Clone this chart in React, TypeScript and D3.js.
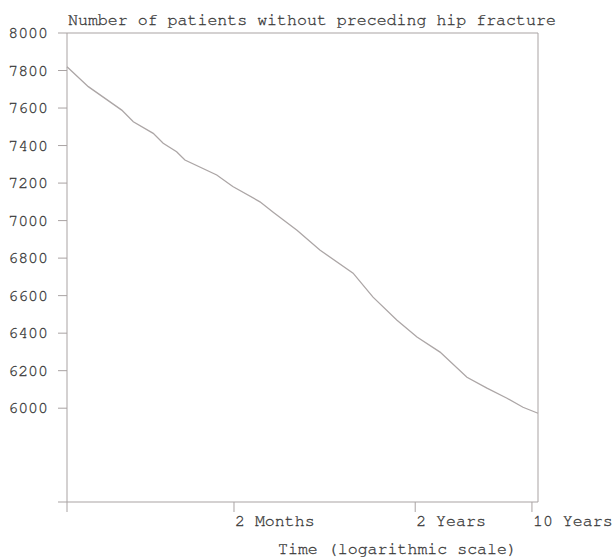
import React from "react";
import * as d3 from "d3";

const days: number[] = [6, 8.05, 12.76, 14.97, 19.7, 22.6, 27.2, 30.5, 47.3, 59, 85.8, 103, 143, 196, 310, 408, 568, 748, 1028, 1490, 1963, 2588, 3227, 3968];
const patients: number[] = [7820, 7714, 7589, 7527, 7465, 7412, 7367, 7323, 7243, 7182, 7100, 7045, 6949, 6843, 6720, 6592, 6469, 6379, 6299, 6165, 6107, 6053, 6005, 5973];

const yTicks: number[] = [5500, 6000, 6200, 6400, 6600, 6800, 7000, 7200, 7400, 7600, 7800, 8000];
const yLabelled: number[] = [6000, 6200, 6400, 6600, 6800, 7000, 7200, 7400, 7600, 7800, 8000];
const xTicks: number[] = [6, 60, 730, 3650];
const xTickLabels: string[] = ["", "2 Months", "2 Years", "10 Years"];

const W = 612;
const H = 558;
const L = 67, R = 538, T = 33, B = 502;

const axisColor = "#a9a3a3";
const textColor = "#3a3a3a";
const lineColor = "#aca6a6";
const font = "'Nimbus Mono PS', 'Nimbus Mono L', 'FreeMono', 'Courier 10 Pitch', Courier, 'Liberation Mono', monospace";
const fs = 16.6;
const textStyle = { stroke: textColor, strokeWidth: 0.3 };

export default function App() {
  const x = d3.scaleLog().domain([6, 3968]).range([L, R]);
  const y = d3.scaleLinear().domain([5500, 8000]).range([B, T]);
  const line = d3
    .line<number>()
    .x((_, i) => x(days[i]))
    .y((d) => y(d))(patients) as string;

  return (
    <svg width={W} height={H} style={{ position: "absolute", left: 0, top: 0, background: "#fff" }}>
      <text x={L + 1} y={25} fontFamily={font} fontSize={fs} fill={textColor} style={textStyle}>
        Number of patients without preceding hip fracture
      </text>
      <line x1={L} y1={T} x2={R} y2={T} stroke={axisColor} strokeWidth={1} />
      <line x1={R} y1={T} x2={R} y2={B} stroke={axisColor} strokeWidth={1} />
      <line x1={L} y1={T} x2={L} y2={B} stroke={axisColor} strokeWidth={1} />
      <line x1={L} y1={B} x2={R} y2={B} stroke={axisColor} strokeWidth={1} />
      {yTicks.map((t) => (
        <line key={"yt" + t} x1={L - 9} x2={L} y1={y(t)} y2={y(t)} stroke={axisColor} strokeWidth={1} />
      ))}
      {yLabelled.map((t) => (
        <text key={"yl" + t} x={48} y={y(t) + 5} textAnchor="end" fontFamily={font} fontSize={fs} fill={textColor} style={textStyle}>
          {t}
        </text>
      ))}
      {xTicks.map((t, i) => (
        <g key={"xt" + t}>
          <line x1={x(t)} x2={x(t)} y1={B} y2={B + 10} stroke={axisColor} strokeWidth={1} />
          {xTickLabels[i] && (
            <text x={x(t) + 1} y={526} fontFamily={font} fontSize={fs} fill={textColor} style={textStyle}>
              {xTickLabels[i]}
            </text>
          )}
        </g>
      ))}
      <text x={278} y={554} fontFamily={font} fontSize={fs} fill={textColor} style={textStyle}>
        Time (logarithmic scale)
      </text>
      <path d={line} fill="none" stroke={lineColor} strokeWidth={1.3} />
    </svg>
  );
}
